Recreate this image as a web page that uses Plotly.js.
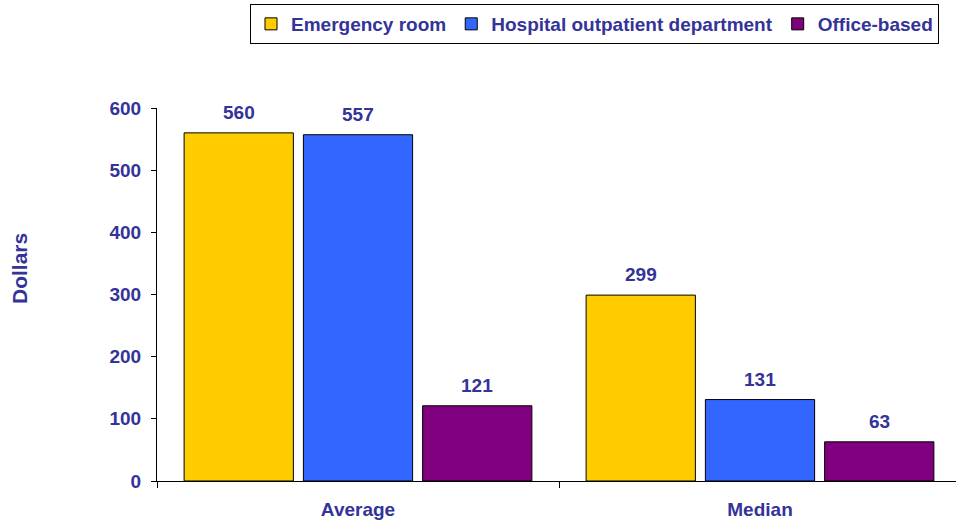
<!DOCTYPE html>
<html>
<head>
<meta charset="utf-8">
<script src="https://cdn.plot.ly/plotly-3.0.1.min.js"></script>
<style>html,body{margin:0;padding:0;background:#fff;overflow:hidden;}#chart{width:961px;height:525px;}</style>
</head>
<body>
<div id="chart"></div>
<script>
const categories = ["Average", "Median"];
const seriesNames = ["Emergency room", "Hospital outpatient department", "Office-based"];
const emergencyRoom = [560, 299];
const hospitalOutpatient = [557, 131];
const officeBased = [121, 63];
const yTicks = [0, 100, 200, 300, 400, 500, 600];
const yTitle = "Dollars";

const colors = ["#FFCC00", "#3366FF", "#800080"];
const textColor = "#333399";
const fontFam = "Arial, 'Liberation Sans', sans-serif";
const allSeries = [emergencyRoom, hospitalOutpatient, officeBased];

const traces = allSeries.map((vals, i) => ({
  type: "bar",
  name: seriesNames[i],
  x: categories,
  y: vals,
  marker: {color: colors[i], line: {color: "#000", width: 1}},
  hoverinfo: "skip"
}));

const W = 961, L = 157, T = 108, B = 44, H = 525;
const plotW = W - L;
const plotH = H - T - B;
const catW = plotW / categories.length;
const bargap = 0.11;
const slot = catW * (1 - bargap) / allSeries.length;

const annotations = [];
allSeries.forEach((vals, i) => {
  vals.forEach((v, j) => {
    annotations.push({
      x: categories[j], y: v, xref: "x", yref: "y",
      text: String(v), showarrow: false,
      yanchor: "bottom", yshift: 8,
      xshift: (i - (allSeries.length - 1) / 2) * slot,
      font: {family: fontFam, size: 19, color: textColor, weight: "bold"}
    });
  });
});
annotations.push({
  xref: "paper", yref: "paper",
  x: (19 - L) / plotW, y: (H - B - 269) / plotH,
  xanchor: "center", yanchor: "middle",
  text: yTitle, textangle: -90, showarrow: false,
  font: {family: fontFam, size: 21, color: textColor, weight: "bold"}
});

const layout = {
  width: W, height: H,
  margin: {l: L, r: 0, t: T, b: B},
  paper_bgcolor: "#fff", plot_bgcolor: "#fff",
  barmode: "group", bargap: bargap, bargroupgap: 0.084,
  font: {family: fontFam, color: textColor, weight: "bold"},
  showlegend: true,
  legend: {
    orientation: "h", x: (939 - L) / plotW, xanchor: "right",
    y: (H - B - 4) / plotH, yanchor: "top",
    bordercolor: "#000", borderwidth: 1, bgcolor: "#fff",
    font: {family: fontFam, size: 19, color: textColor, weight: "bold"},
    itemwidth: 30, tracegroupgap: 0, traceorder: "normal"
  },
  xaxis: {
    type: "category", tickson: "boundaries", ticks: "outside", ticklen: 6,
    tickcolor: "#000", showline: true, linecolor: "#000", linewidth: 1,
    showgrid: false, zeroline: false, ticklabelstandoff: 11,
    tickfont: {family: fontFam, size: 19, color: textColor, weight: "bold"},
    fixedrange: true
  },
  yaxis: {
    range: [0, 600], tickvals: yTicks, ticktext: yTicks.map(String),
    ticks: "outside", ticklen: 5, tickcolor: "#000",
    showline: true, linecolor: "#000", linewidth: 1,
    showgrid: false, zeroline: false, ticklabelstandoff: 6,
    tickfont: {family: fontFam, size: 19, color: textColor, weight: "bold"},
    fixedrange: true
  },
  annotations: annotations
};

Plotly.newPlot("chart", traces, layout, {displayModeBar: false, staticPlot: true});
</script>
</body>
</html>
